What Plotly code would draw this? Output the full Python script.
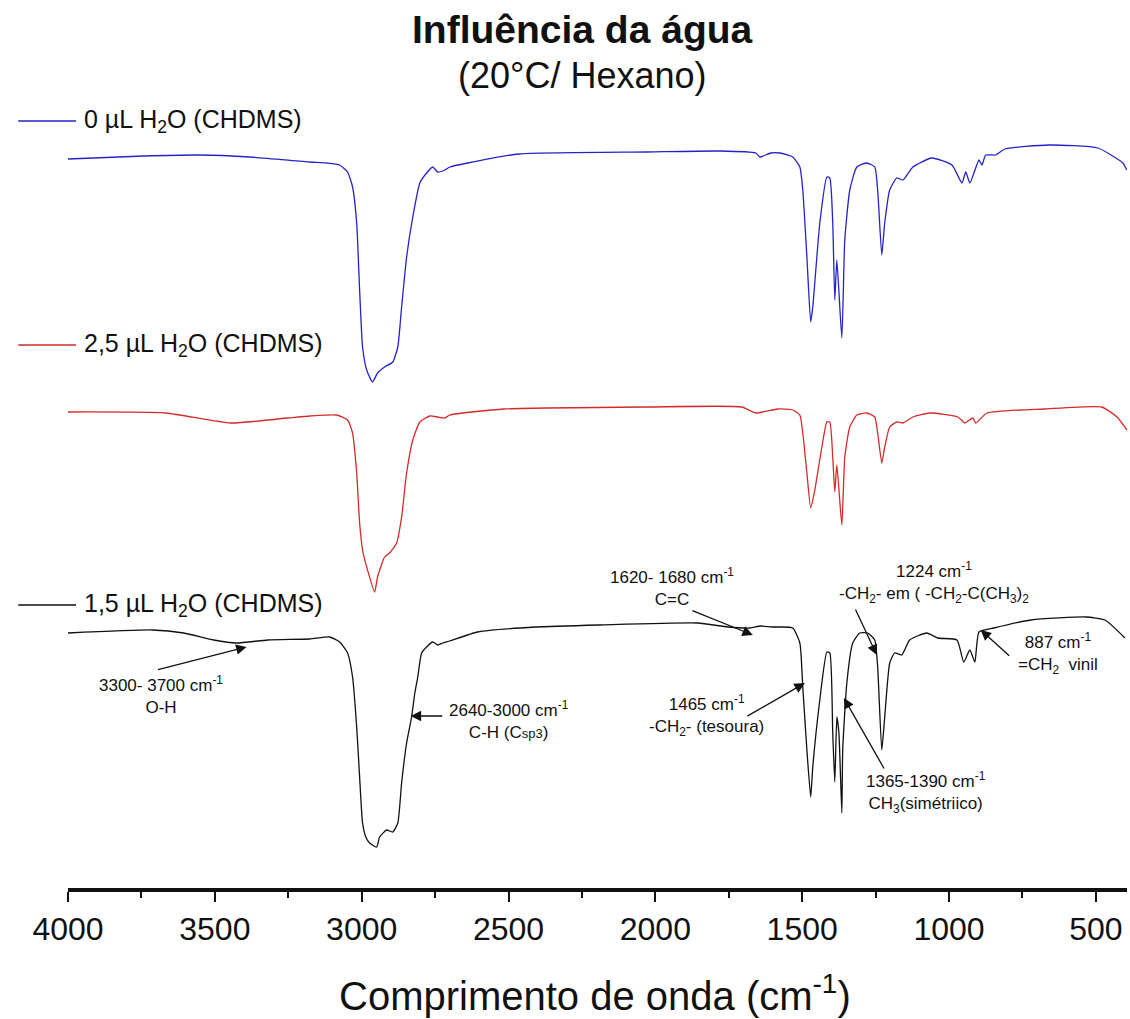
import plotly.graph_objects as go

# ---- data (wavenumber cm^-1, relative transmittance a.u.) ----
wn_blue = [4000, 3742, 3552, 3381, 3177, 3119, 3075, 3048, 3031, 3017, 3007, 2997, 2983, 2963, 2946,
           2922, 2894, 2877, 2864, 2847, 2826, 2802, 2779, 2758, 2741, 2717, 2700, 2639, 2465, 2026,
           1781, 1658, 1644, 1607, 1576, 1532, 1508, 1498, 1484, 1471, 1464, 1440, 1416, 1406, 1396,
           1389, 1382, 1365, 1355, 1338, 1314, 1280, 1253, 1243, 1229, 1219, 1202, 1178, 1157, 1123,
           1059, 990, 956, 943, 929, 898, 888, 875, 841, 810, 660, 493, 408, 395]
t_blue = [729, 732, 733, 731, 726, 725, 723, 716, 701, 665, 598, 541, 518, 506, 515,
          521, 526, 541, 581, 631, 671, 705, 715, 721, 716, 718, 721, 725, 734, 736,
          737, 735, 731, 735, 735, 731, 721, 698, 631, 566, 581, 665, 711, 710, 665,
          588, 628, 550, 648, 698, 721, 725, 721, 698, 633, 665, 698, 710, 708, 721,
          730, 723, 705, 716, 705, 728, 723, 733, 733, 739, 743, 740, 725, 718]

wn_red = [4000, 3668, 3446, 3252, 3177, 3085, 3048, 3031, 3017, 3007, 2997, 2980, 2956, 2946, 2922,
          2905, 2881, 2864, 2847, 2826, 2802, 2768, 2741, 2717, 2700, 2516, 2026, 1706, 1658, 1583,
          1532, 1508, 1498, 1484, 1471, 1457, 1433, 1416, 1406, 1396, 1389, 1382, 1365, 1355, 1338,
          1314, 1280, 1253, 1243, 1229, 1219, 1202, 1178, 1157, 1123, 1065, 970, 946, 919, 909,
          871, 674, 480, 428, 394]
t_red = [476, 475, 465, 470, 472, 473, 468, 455, 415, 365, 338, 318, 296, 311, 331,
         335, 345, 371, 415, 448, 466, 472, 471, 470, 473, 479, 481, 481, 475, 479,
         478, 473, 455, 415, 380, 398, 441, 466, 466, 431, 396, 423, 363, 431, 461,
         473, 475, 471, 455, 425, 441, 461, 466, 465, 471, 475, 471, 465, 470, 465,
         475, 479, 481, 471, 458]

wn_black = [4000, 3712, 3606, 3504, 3426, 3320, 3177, 3109, 3075, 3048, 3031, 3017, 3007, 2997, 2986,
            2973, 2949, 2939, 2915, 2894, 2877, 2864, 2847, 2830, 2819, 2809, 2796, 2779, 2758, 2741,
            2724, 2700, 2605, 2407, 2189, 1856, 1753, 1678, 1641, 1603, 1576, 1532, 1508, 1498, 1484,
            1471, 1464, 1440, 1416, 1406, 1396, 1389, 1382, 1375, 1365, 1362, 1348, 1328, 1304, 1277,
            1253, 1243, 1229, 1219, 1202, 1185, 1161, 1134, 1076, 1038, 973, 950, 929, 912, 898,
            847, 721, 534, 469, 401]
t_black = [255, 258, 255, 248, 245, 248, 249, 251, 246, 235, 211, 161, 111, 65, 51,
           45, 41, 51, 58, 56, 65, 105, 145, 171, 195, 211, 235, 241, 246, 243,
           245, 247, 256, 261, 263, 265, 261, 260, 262, 261, 261, 260, 245, 201, 138,
           91, 121, 188, 236, 235, 155, 106, 171, 155, 75, 138, 205, 245, 255, 255,
           248, 221, 138, 171, 225, 235, 233, 248, 255, 250, 248, 226, 238, 226, 256,
           260, 268, 271, 268, 250]

series_names = ["0 µL H<sub>2</sub>O (CHDMS)", "2,5 µL H<sub>2</sub>O (CHDMS)", "1,5 µL H<sub>2</sub>O (CHDMS)"]
series_colors = ["#2323c8", "#d42a2a", "#111111"]

tick_vals = [4000, 3500, 3000, 2500, 2000, 1500, 1000, 500]

# band annotations: (text, text_wn, text_y, head_wn, head_y, tail_dx, tail_dy)
bands = [
    ("3300- 3700 cm<sup>-1</sup><br>O-H", 3685, 193, 3392, 241, -90, 23),
    ("2640-3000 cm<sup>-1</sup><br>C-H (C<span style='font-size:13px'>sp3</span>)", 2499, 168, 2833, 172, 33, 0),
    ("1620- 1680 cm<sup>-1</sup><br>C=C", 1944, 301, 1668, 253, -62, -25),
    ("1224 cm<sup>-1</sup><br>-CH<sub>2</sub>- em ( -CH<sub>2</sub>-C(CH<sub>3</sub>)<sub>2</sub>", 1052, 306, 1246, 233, -22, -47),
    ("1465 cm<sup>-1</sup><br>-CH<sub>2</sub>- (tesoura)", 1825, 173, 1491, 205, -59, 34),
    ("1365-1390 cm<sup>-1</sup><br>CH<sub>3</sub>(simétriico)", 1079, 96, 1358, 190, 41, 72),
    ("887 cm<sup>-1</sup><br>=CH<sub>2</sub>  vinil", 629, 235, 892, 258, 30, 27),
]

FONT = "Liberation Sans, Arial, sans-serif"

fig = go.Figure()
for wn, t, name, col in zip([wn_blue, wn_red, wn_black], [t_blue, t_red, t_black], series_names, series_colors):
    fig.add_trace(go.Scatter(x=wn, y=t, mode="lines", name=name,
                             line=dict(color=col, width=1.3, shape="spline", smoothing=0.5),
                             showlegend=False))

# legend-like labels (line keys + text)
legend_y = [0.9734, 0.6891, 0.3591]
for name, col, ly in zip(series_names, series_colors, legend_y):
    fig.add_shape(type="line", xref="paper", yref="paper", x0=-0.047, x1=0.0076, y0=ly, y1=ly,
                  line=dict(color=col, width=1.4))
    fig.add_annotation(xref="paper", yref="paper", x=0.013, y=ly, xanchor="left", yanchor="middle",
                       text=name, showarrow=False, font=dict(family=FONT, size=25, color="#111"))

for text, tx, ty, hx, hy, dx, dy in bands:
    fig.add_annotation(x=tx, y=ty, xref="x", yref="y", text=text, showarrow=False,
                       xanchor="center", yanchor="middle", align="center",
                       font=dict(family=FONT, size=17, color="#111"))
    fig.add_annotation(x=hx, y=hy, xref="x", yref="y", text="", showarrow=True,
                       ax=dx, ay=dy, arrowhead=2, arrowsize=1.6, arrowwidth=1.3,
                       arrowcolor="#111", standoff=0)

# titles
fig.add_annotation(xref="paper", yref="paper", x=0.4863, y=1.089, text="<b>Influência da água</b>",
                   showarrow=False, xanchor="center", yanchor="middle",
                   font=dict(family=FONT, size=39, color="#111"))
fig.add_annotation(xref="paper", yref="paper", x=0.4863, y=1.0305, text="(20°C/ Hexano)",
                   showarrow=False, xanchor="center", yanchor="middle",
                   font=dict(family=FONT, size=36, color="#111"))
fig.add_annotation(xref="paper", yref="paper", x=0.4976, y=-0.133, text="Comprimento de onda (cm<sup>-1</sup>)",
                   showarrow=False, xanchor="center", yanchor="middle",
                   font=dict(family=FONT, size=40, color="#111"))

fig.update_layout(
    width=1130, height=1019,
    margin=dict(l=68, r=3, t=100, b=131),
    paper_bgcolor="white", plot_bgcolor="white",
    xaxis=dict(range=[4000, 394], tickvals=tick_vals, ticktext=[str(v) for v in tick_vals],
               showline=True, linewidth=4, linecolor="#111", mirror=False,
               ticks="outside", ticklen=10, tickwidth=2, tickcolor="#111",
               minor=dict(ticks="outside", ticklen=6, tickwidth=2, tickcolor="#111", dtick=250, tick0=0),
               showgrid=False, zeroline=False,
               tickfont=dict(family=FONT, size=32, color="#111")),
    yaxis=dict(range=[0, 788], visible=False, showgrid=False, zeroline=False),
)

fig.write_html("out.html", config={"displayModeBar": False},
               post_script="document.body.style.margin='0';document.body.style.overflow='hidden';")
